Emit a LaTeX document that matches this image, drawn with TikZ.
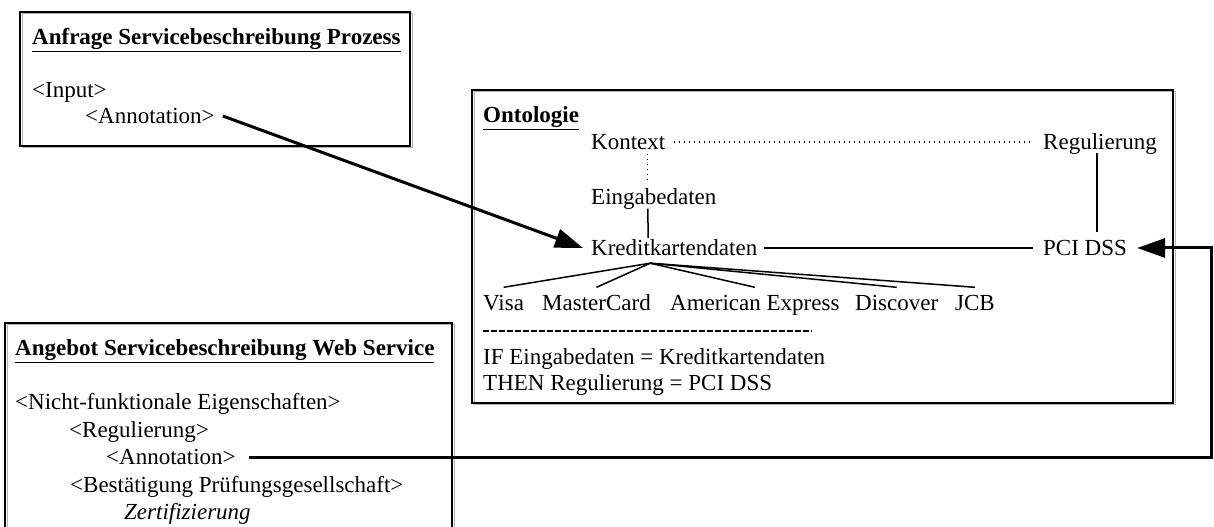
\documentclass[tikz,border=0pt]{standalone}
\usepackage{fontspec}
\setmainfont{Liberation Serif}
\usetikzlibrary{arrows.meta,calc}
\begin{document}
\begin{tikzpicture}[x=1bp,y=1bp,
  txt/.style={anchor=west,inner sep=0pt,text height=15bp,text depth=0pt,font=\fontsize{23bp}{27bp}\selectfont},
  frame/.style={draw=black,line width=1.5bp},
  shadowline/.style={draw=black!30,line width=1bp},
  tree/.style={line width=1.5bp},
  dots/.style={line width=1.3bp,dash pattern=on 1.3bp off 3.7bp},
  sep/.style={line width=1.6bp,dash pattern=on 6bp off 2bp},
  conn/.style={line width=3bp},
  tip/.style={-{Triangle[length=28bp,width=19bp]}}
]
\useasboundingbox (0,0) rectangle (1214,-527);
\fill[white] (0,0) rectangle (1214,-527);

% frames
\draw[shadowline] (22,-14) rectangle (412,-148);
\draw[frame] (20,-12) rectangle (410,-146);
\draw[shadowline] (474,-92) rectangle (1175,-405);
\draw[frame] (472,-90) rectangle (1173,-403);
\draw[shadowline] (7,-325) rectangle (454,-560);
\draw[frame] (5,-323) rectangle (452,-560);

% box 1
\node[txt] (t1) at (32,-37) {\underline{\textbf{Anfrage Servicebeschreibung Prozess}}};
\node[txt] (inp) at (32,-90) {<Input>};
\node[txt] (ann1) at (85,-116) {<Annotation>};

% ontology box
\node[txt] (t2) at (483,-115) {\underline{\textbf{Ontologie}}};
\node[txt] (kontext) at (591,-142) {Kontext};
\node[txt] (reg) at (1043,-142) {Regulierung};
\node[txt] (eing) at (591,-197) {Eingabedaten};
\node[txt] (kredit) at (591,-248) {Kreditkartendaten};
\node[txt] (pci) at (1043,-248) {PCI DSS};
\node[txt] (visa) at (483,-303) {Visa};
\node[txt] (mc) at (542,-303) {MasterCard};
\node[txt] (amex) at (670,-303) {American Express};
\node[txt] (disc) at (855,-303) {Discover};
\node[txt] (jcb) at (955,-303) {JCB};
\node[txt] (if) at (483,-357) {IF Eingabedaten = Kreditkartendaten};
\node[txt] (then) at (483,-383) {THEN Regulierung = PCI DSS};
\coordinate (sepL) at (483,-331);
\coordinate (sepR) at (812,-331);
\draw[sep] (sepL) -- (sepR);

% ontology links
\draw[dots] ([xshift=8bp]kontext.east) -- ([xshift=-10bp]reg.west);
\draw[dots] ($(eing.north|-kontext.south)+(-6,-4)$) -- ($(eing.north)+(-6,6)$);
\draw[tree] ($(eing.south)+(-6,-4)$) -- ($(kredit.north)+(-26,2.5)$);
\draw[tree] ([xshift=7bp]kredit.east) -- ([xshift=-10bp]pci.west);
\draw[tree] ($(reg.south)+(-3,-3.5)$) -- ($(reg.south|-pci.north)+(-3,8.5)$);
\coordinate (apex) at ($(kredit.south)+(-24,-7.5)$);
\foreach \n in {visa,mc,amex,disc,jcb}{
  \draw[tree] (apex) -- ($(\n.north)+(0,8)$);
}

% box 3
\node[txt] (t3) at (15,-348) {\underline{\textbf{Angebot Servicebeschreibung Web Service}}};
\node[txt] (nf) at (15,-402) {<Nicht-funktionale Eigenschaften>};
\node[txt] (reg2) at (69,-430) {<Regulierung>};
\node[txt] (ann2) at (106,-457) {<Annotation>};
\node[txt] (best) at (70,-485) {<Bestätigung Prüfungsgesellschaft>};
\node[txt] (zert) at (124,-512) {\itshape Zertifizierung};

% connectors
\draw[conn,tip] ([xshift=8bp]ann1.east) -- ([xshift=-8bp]kredit.west);
\coordinate (cR) at (1211.5,-248);
\draw[conn,tip,line join=miter] ([xshift=13bp]ann2.east) -| (cR) -- ([xshift=10bp]pci.east);
\end{tikzpicture}
\end{document}
